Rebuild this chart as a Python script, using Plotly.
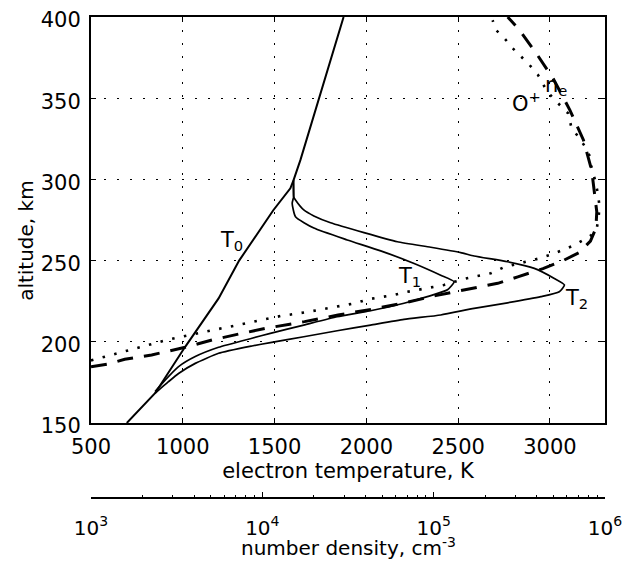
import plotly.graph_objects as go

# ---- data ----
t0_temp = [695, 849, 1013, 1195, 1307, 1493, 1586, 1603, 1641, 1750, 1876]
t0_alt = [150, 168.3, 196.9, 226.7, 250, 281, 294.5, 299.4, 312, 353, 400]

t1_temp = [849, 905, 977, 1068, 1195, 1377, 1477, 1659, 1841, 2023, 2205, 2332, 2442, 2478,
           2405, 2260, 2078, 1896, 1714, 1614, 1596, 1604, 1603]
t1_alt = [169.3, 176.5, 184.7, 190.9, 196.6, 202.2, 205.2, 210.3, 215.4, 219.1, 223.7, 227.8, 232, 237,
          241, 248.2, 256, 262.7, 270, 277, 285.3, 289.3, 299.4]

t2_temp = [849, 922, 977, 1068, 1195, 1377, 1477, 1659, 1841, 2023, 2205, 2405, 2587, 2769, 2951, 3051,
           3079, 3024, 2915, 2769, 2587, 2514, 2351, 2169, 1987, 1805, 1714, 1659, 1614, 1604, 1603]
t2_alt = [168.3, 175.4, 180.5, 186.7, 192.9, 197.4, 199.5, 203.1, 206.8, 210.3, 213.8, 216.5, 220.6, 224,
          227.8, 230.8, 235, 239, 245.2, 249.3, 252.8, 254.9, 258.2, 261.6, 267.2, 273.3, 277.5, 281.2,
          287.3, 289.3, 299.4]

# log10 of density (cm^-3)
ne_logn = [3.0, 3.099, 3.197, 3.354, 3.55, 3.707, 3.864, 4.021, 4.246, 4.442, 4.638, 4.834, 5.011,
           5.197, 5.374, 5.491, 5.638, 5.756, 5.85, 5.915, 5.947, 5.952, 5.941, 5.922, 5.874, 5.795,
           5.697, 5.599, 5.501, 5.432]
ne_alt = [184.6, 186.3, 189.2, 191.9, 196.6, 201.1, 204.8, 208.3, 212.4, 216.5, 220, 224.1, 228.4,
          232.5, 236, 240, 245, 250, 255, 262, 270, 280, 290, 305.8, 324.3, 342.7, 362.2, 377.6, 392, 400]

op_logn = [3.0, 3.069, 3.216, 3.442, 3.55, 3.756, 3.972, 4.109, 4.256, 4.403, 4.54, 4.619, 4.766,
           4.834, 4.981, 5.06, 5.187, 5.334, 5.413, 5.619, 5.697, 5.756, 5.825, 5.874, 5.922, 5.952,
           5.962, 5.968, 5.959, 5.942, 5.92, 5.913, 5.884, 5.844, 5.805, 5.785, 5.746, 5.697, 5.658,
           5.609, 5.56, 5.511, 5.462, 5.413, 5.364, 5.344]
op_alt = [188.5, 190.4, 194.9, 201.1, 203.6, 208.3, 213, 215.9, 218.2, 221, 223.7, 226.2, 228.8,
          230.5, 233.6, 235, 239, 242.2, 246, 251.4, 254.1, 256.5, 259.6, 262.7, 265.8, 269.9,
          276, 283.2, 291, 299.6, 307.8, 314, 320.1, 326.3, 331.5, 340.7, 344.8, 349.9, 355,
          364.3, 370.4, 375.6, 380.7, 386.9, 392, 398]

ne_dens = [10 ** v for v in ne_logn]
op_dens = [10 ** v for v in op_logn]

temp_ticks = [500, 1000, 1500, 2000, 2500, 3000]
alt_ticks = [150, 200, 250, 300, 350, 400]
dens_ticks = [1e3, 1e4, 1e5, 1e6]
dens_ticktext = ["10<sup>3</sup>", "10<sup>4</sup>", "10<sup>5</sup>", "10<sup>6</sup>"]
dens_minor = [m * 10 ** e for e in (3, 4, 5) for m in range(2, 10)]

FONT = "DejaVu Sans"

fig = go.Figure()
fig.add_trace(go.Scatter(x=op_dens, y=op_alt, xaxis="x2", yaxis="y", mode="lines",
                         line=dict(color="black", width=2.6, dash="2.5px,9.5px")))
fig.add_trace(go.Scatter(x=ne_dens, y=ne_alt, xaxis="x2", yaxis="y", mode="lines",
                         line=dict(color="black", width=3, dash="16px,11px")))
fig.add_trace(go.Scatter(x=t0_temp, y=t0_alt, mode="lines", line=dict(color="black", width=2)))
fig.add_trace(go.Scatter(x=t1_temp, y=t1_alt, mode="lines", line=dict(color="black", width=1.7,
                                                                       shape="spline", smoothing=0.5)))
fig.add_trace(go.Scatter(x=t2_temp, y=t2_alt, mode="lines", line=dict(color="black", width=1.7,
                                                                       shape="spline", smoothing=0.5)))

ann_font = dict(family=FONT, size=21, color="black")
annotations = [
    dict(x=1190, y=271.5, text="T<sub>0</sub>"),
    dict(x=2160, y=249, text="T<sub>1</sub>"),
    dict(x=3072, y=235.5, text="T<sub>2</sub>"),
    dict(x=2782, y=357.5, text="O<sup>+</sup>"),
    dict(x=2960, y=366.5, text="n<sub>e</sub>"),
]
for a in annotations:
    a.update(xref="x", yref="y", showarrow=False, xanchor="left", yanchor="top", font=ann_font)
annotations.append(dict(text="altitude, km", xref="paper", yref="paper", x=-0.128, y=0.535,
                        textangle=-90, showarrow=False, font=dict(family=FONT, size=20, color="black"),
                        xanchor="center", yanchor="middle"))
annotations.append(dict(text="number density, cm<sup>-3</sup>", xref="paper", yref="paper",
                        x=0.5, y=-0.101, showarrow=False,
                        font=dict(family=FONT, size=20, color="black"),
                        xanchor="center", yanchor="middle"))

grid = dict(showgrid=True, gridcolor="black", gridwidth=1.3, griddash="2px,11px")

# page body has an 8px default margin, so the figure is 8px smaller than the window
fig.update_layout(
    width=624, height=554,
    margin=dict(l=83, r=27, t=9, b=64, autoexpand=False),
    paper_bgcolor="white", plot_bgcolor="white",
    showlegend=False,
    font=dict(family=FONT, size=21, color="black"),
    annotations=annotations,
    xaxis=dict(range=[500, 3300], tickvals=temp_ticks, ticks="inside", ticklen=5,
               tickcolor="black", showline=True, linecolor="black", linewidth=2, mirror="ticks",
               zeroline=False, tickfont=dict(family=FONT, size=21), ticklabelstandoff=4,
               ticklabeloverflow="allow",
               title=dict(text="electron temperature, K", font=dict(family=FONT, size=21), standoff=1),
               anchor="y", automargin=False, **grid),
    yaxis=dict(range=[150, 400], tickvals=alt_ticks, ticks="inside", ticklen=5,
               tickcolor="black", showline=True, linecolor="black", linewidth=2, mirror="ticks",
               zeroline=False, tickfont=dict(family=FONT, size=21), ticklabelstandoff=4,
               ticklabelshift=3, ticklabeloverflow="allow",
               domain=[0.156, 1], anchor="x", automargin=False, **grid),
    xaxis2=dict(type="log", range=[3, 6], overlaying="x", anchor="free", position=0,
                side="bottom", showgrid=False, zeroline=False, automargin=False,
                tickvals=dens_ticks, ticktext=dens_ticktext, ticks="inside", ticklen=5,
                tickcolor="black", showline=True, linecolor="black", linewidth=1.5,
                tickfont=dict(family=FONT, size=20), ticklabelstandoff=12,
                ticklabeloverflow="allow",
                minor=dict(tickvals=dens_minor, ticks="inside", ticklen=2, tickcolor="black")),
)

fig.write_html("out.html")
